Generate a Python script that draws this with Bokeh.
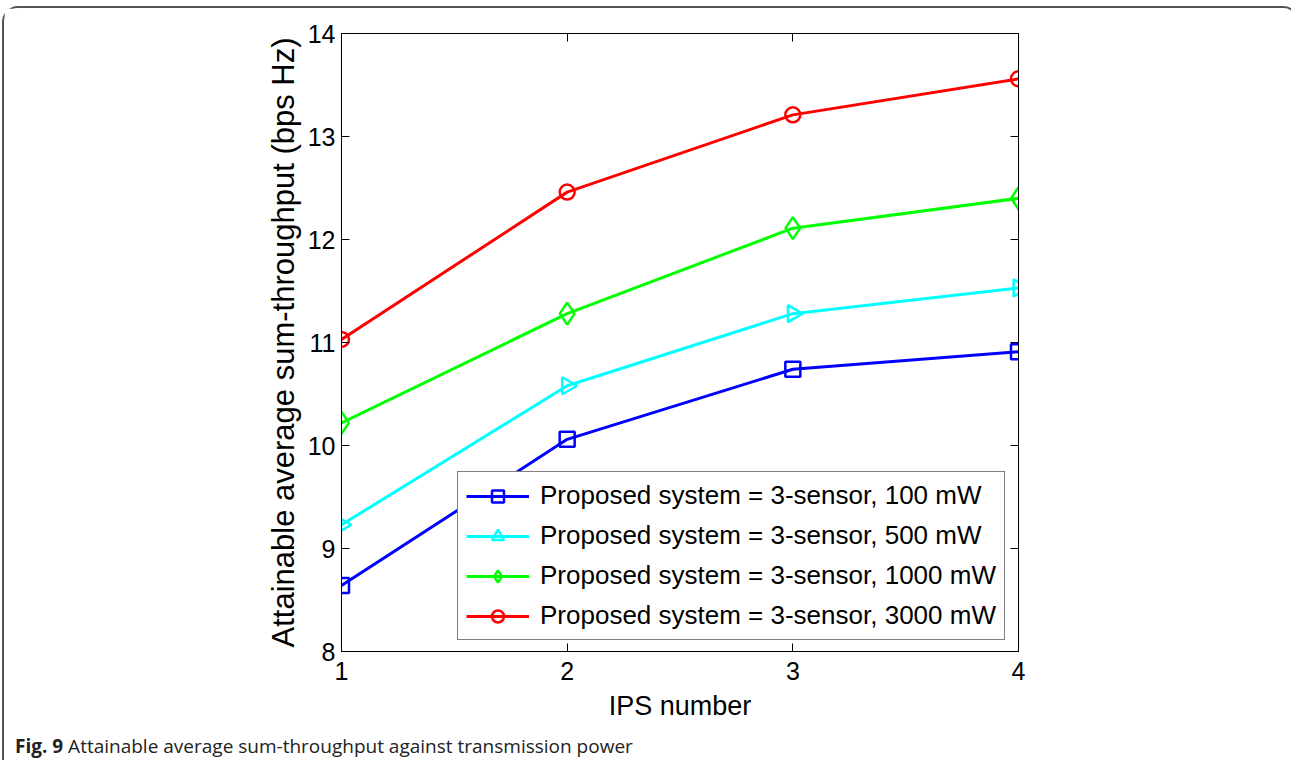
from bokeh.plotting import figure
from bokeh.models import (Range1d, LinearAxis, FixedTicker, Legend, LegendItem, Div)
from bokeh.layouts import column
from bokeh.embed import file_html
from bokeh.resources import INLINE
import math

ips = [1, 2, 3, 4]
tp_100 = [8.64, 10.06, 10.74, 10.91]
tp_500 = [9.23, 10.58, 11.28, 11.53]
tp_1000 = [10.22, 11.28, 12.11, 12.40]
tp_3000 = [11.03, 12.46, 13.21, 13.56]
series_labels = [
    "Proposed system = 3-sensor, 100 mW",
    "Proposed system = 3-sensor, 500 mW",
    "Proposed system = 3-sensor, 1000 mW",
    "Proposed system = 3-sensor, 3000 mW",
]
x_ticks = [1, 2, 3, 4]
y_ticks = [8, 9, 10, 11, 12, 13, 14]
x_title = "IPS number"
y_title = "Attainable average sum-throughput (bps Hz)"
caption_bold = "Fig. 9"
caption_text = "Attainable average sum-throughput against transmission power"

# outer frame: margin 2/6 px, border 2 px -> figure origin at (4, 8)
FW, FH = 1283, 720
p = figure(width=FW, height=FH, output_backend="svg", toolbar_location=None,
           x_range=Range1d(1, 4), y_range=Range1d(8, 14),
           min_border_left=337, min_border_right=FW + 4 - 1018,
           min_border_top=25, min_border_bottom=FH + 8 - 651,
           x_axis_label=x_title, y_axis_label=y_title)
p.background_fill_color = "white"
p.border_fill_color = "white"
p.outline_line_color = "black"
p.outline_line_width = 1
p.xgrid.visible = False
p.ygrid.visible = False

FONT = "Liberation Sans"

def style_axis(ax, ticks, label_size="25px", standoff=8):
    ax.ticker = FixedTicker(ticks=ticks)
    ax.minor_tick_line_color = None
    ax.major_tick_in = 8
    ax.major_tick_out = 0
    ax.major_tick_line_color = "black"
    ax.axis_line_color = "black"
    ax.major_label_text_font = FONT
    ax.major_label_text_font_size = label_size
    ax.major_label_text_color = "black"
    ax.major_label_standoff = standoff
    ax.axis_label_text_font = FONT
    ax.axis_label_text_font_style = "normal"
    ax.axis_label_text_color = "black"

style_axis(p.xaxis[0], x_ticks, standoff=10)
style_axis(p.yaxis[0], y_ticks, standoff=6)
p.xaxis[0].axis_label_text_font_size = "27px"
p.xaxis[0].axis_label_standoff = 8
p.yaxis[0].axis_label_text_font_size = "31px"
p.yaxis[0].axis_label_standoff = 4

top_ax = LinearAxis()
style_axis(top_ax, x_ticks, label_size="0px")
top_ax.major_label_text_alpha = 0
p.add_layout(top_ax, "above")
right_ax = LinearAxis()
style_axis(right_ax, y_ticks, label_size="0px")
right_ax.major_label_text_alpha = 0
p.add_layout(right_ax, "right")

series = [
    (tp_100, "#0000ff", "square", 0.0, 15),
    (tp_500, "#00ffff", "triangle", -math.pi / 2, 17),
    (tp_1000, "#00ff00", "diamond", 0.0, 22),
    (tp_3000, "#ff0000", "circle", 0.0, 15),
]
items = []
for (vals, col, mk, ang, sz), lab in zip(series, series_labels):
    l = p.line(ips, vals, line_color=col, line_width=3)
    s = p.scatter(ips, vals, marker=mk, size=sz, angle=ang,
                  fill_color=None, line_color=col, line_width=2.5)
    items.append(LegendItem(label=lab, renderers=[l, s]))

legend = Legend(items=items, location=(116, 11))
legend.label_text_font = FONT
legend.label_text_font_size = "26px"
legend.label_text_color = "black"
legend.glyph_width = 63
legend.glyph_height = 30
legend.label_height = 30
legend.label_standoff = 11
legend.spacing = 9
legend.padding = 8
legend.margin = 0
legend.border_line_color = "black"
legend.border_line_width = 1
legend.background_fill_color = "white"
legend.background_fill_alpha = 1
p.add_layout(legend, "center")

cap = Div(text=f"<b>{caption_bold}</b> {caption_text}", width=FW, height=31,
          styles={"font-family": "'Open Sans', sans-serif", "font-size": "19px",
                  "line-height": "26px", "color": "#222222",
                  "padding-left": "6px", "box-sizing": "border-box"})

layout = column(p, cap, margin=(6, 2, 0, 2),
                styles={"border": "2px solid #555555", "border-bottom": "none",
                        "border-radius": "16px 16px 0 0",
                        "background-color": "white"})

open("out.html", "w").write(file_html(layout, INLINE))
